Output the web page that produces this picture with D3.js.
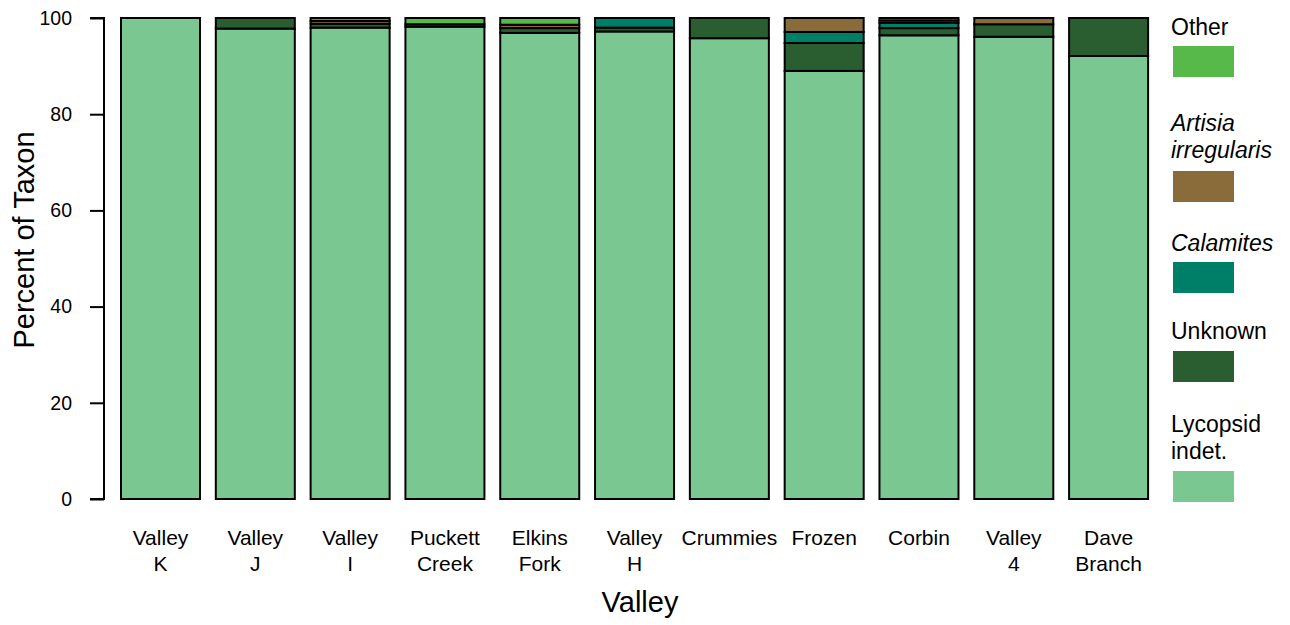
<!DOCTYPE html>
<html>
<head>
<meta charset="utf-8">
<script src="https://cdn.jsdelivr.net/npm/d3@7"></script>
<style>
  html, body { margin: 0; padding: 0; background: #fff; }
  svg { display: block; font-family: "Liberation Sans", Arial, sans-serif; }
</style>
</head>
<body>
<svg id="chart" width="1290" height="625"></svg>
<script>
// Valleys (x categories), each label split over two lines
const valleys = ["Valley K", "Valley J", "Valley I", "Puckett Creek", "Elkins Fork",
                 "Valley H", "Crummies", "Frozen", "Corbin", "Valley 4", "Dave Branch"];
const valleyLabels = [["Valley", "K"], ["Valley", "J"], ["Valley", "I"], ["Puckett", "Creek"],
                      ["Elkins", "Fork"], ["Valley", "H"], ["Crummies"], ["Frozen"],
                      ["Corbin"], ["Valley", "4"], ["Dave", "Branch"]];

// Percent of each taxon per valley (stacked bottom to top)
const lycopsid  = [100, 97.8, 98.0, 98.2, 96.9, 97.2, 95.8, 89.0, 96.4, 96.1, 92.1];
const unknown   = [0,   2.2,  0.8,  0.5,  1.0,  0.8,  4.2,  5.8,  1.5,  2.6,  7.9];
const calamites = [0,   0,    0,    0,    0,    2.0,  0,    2.3,  1.1,  0,    0];
const artisia   = [0,   0,    0.6,  0,    0.7,  0,    0,    2.9,  0.5,  1.3,  0];
const other     = [0,   0,    0.6,  1.3,  1.4,  0,    0,    0,    0.5,  0,    0];

const yTicks = [0, 20, 40, 60, 80, 100];

const seriesKeys   = ["lycopsid", "unknown", "calamites", "artisia", "other"];
const seriesValues = [lycopsid, unknown, calamites, artisia, other];
const seriesColors = ["#7bc792", "#2a5e31", "#007f68", "#8a6b3a", "#56b94a"];

const rows = valleys.map((v, i) => {
  const r = { valley: v };
  seriesKeys.forEach((k, j) => { r[k] = seriesValues[j][i]; });
  return r;
});

const svg = d3.select("#chart");

const x = d3.scaleBand()
  .domain(valleys)
  .range([113.1, 1156])
  .paddingInner(0.2 / 1.2)
  .paddingOuter(0.1 / 1.2);

const y = d3.scaleLinear().domain([0, 100]).range([499, 18]);

const color = d3.scaleOrdinal().domain(seriesKeys).range(seriesColors);

const stacked = d3.stack().keys(seriesKeys)(rows);

// Stacked bars
svg.append("g")
  .selectAll("g")
  .data(stacked)
  .join("g")
    .attr("fill", d => color(d.key))
  .selectAll("rect")
  .data(d => d.filter(s => s[1] - s[0] > 0))
  .join("rect")
    .attr("x", d => x(d.data.valley))
    .attr("width", x.bandwidth())
    .attr("y", d => y(d[1]))
    .attr("height", d => y(d[0]) - y(d[1]))
    .attr("stroke", "#000")
    .attr("stroke-width", 2);

// Y axis
const yAxis = d3.axisLeft(y).tickValues(yTicks).tickSize(14).tickPadding(18);
const gy = svg.append("g")
  .attr("transform", "translate(104,0)")
  .call(yAxis);
gy.select(".domain").attr("stroke", "#000").attr("stroke-width", 2)
  .attr("d", `M-14,${y(100)}H0V${y(0)}H-14`);
gy.selectAll(".tick line").attr("stroke", "#000").attr("stroke-width", 2);
gy.selectAll(".tick text")
  .attr("font-size", 19.5)
  .attr("fill", "#000")
  .attr("font-family", "'Liberation Sans', Arial, sans-serif");

// Y title
svg.append("text")
  .attr("transform", "translate(34,240) rotate(-90)")
  .attr("text-anchor", "middle")
  .attr("font-size", 29)
  .attr("fill", "#000")
  .text("Percent of Taxon");

// Category labels
const xl = svg.append("g");
valleys.forEach((v, i) => {
  const cx = x(v) + x.bandwidth() / 2;
  const t = xl.append("text")
    .attr("text-anchor", "middle")
    .attr("font-size", 21)
    .attr("fill", "#000");
  valleyLabels[i].forEach((line, j) => {
    t.append("tspan").attr("x", cx).attr("y", 545 + j * 26).text(line);
  });
});

// X title
svg.append("text")
  .attr("x", 640)
  .attr("y", 612)
  .attr("text-anchor", "middle")
  .attr("font-size", 29)
  .attr("fill", "#000")
  .text("Valley");

// Legend (top to bottom: Other ... Lycopsid)
const legendItems = [
  { key: "other",     lines: ["Other"],                    italic: false, textY: 35,  boxY: 46 },
  { key: "artisia",   lines: ["Artisia", "irregularis"],   italic: true,  textY: 131, boxY: 171 },
  { key: "calamites", lines: ["Calamites"],                italic: true,  textY: 251, boxY: 262 },
  { key: "unknown",   lines: ["Unknown"],                  italic: false, textY: 339, boxY: 351 },
  { key: "lycopsid",  lines: ["Lycopsid", "indet."],       italic: false, textY: 432, boxY: 471 }
];
const lg = svg.append("g");
legendItems.forEach(it => {
  const t = lg.append("text")
    .attr("font-size", 23)
    .attr("fill", "#000")
    .attr("font-style", it.italic ? "italic" : "normal");
  it.lines.forEach((line, j) => {
    t.append("tspan").attr("x", 1171).attr("y", it.textY + j * 27).text(line);
  });
  lg.append("rect")
    .attr("x", 1173)
    .attr("y", it.boxY)
    .attr("width", 61)
    .attr("height", 31)
    .attr("fill", color(it.key));
});
</script>
</body>
</html>
